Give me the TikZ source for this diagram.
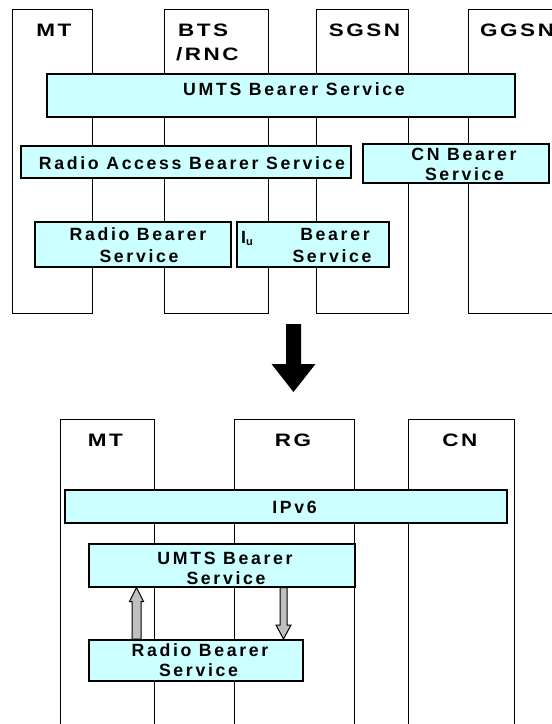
\documentclass[tikz,border=0pt]{standalone}
\usepackage{fontspec}
\usetikzlibrary{calc}
\newfontfamily\headfont[LetterSpace=14, FakeStretch=1.25]{Liberation Sans}
\newfontfamily\svcfont[LetterSpace=15]{Liberation Sans}
\definecolor{svcfill}{HTML}{CCFFFF}
\definecolor{arrowgray}{HTML}{C0C0C0}

\begin{document}
\begin{tikzpicture}[x=1pt, y=-1pt,
  entity/.style={draw, line width=1.3pt, rectangle, inner sep=0pt, anchor=north west},
  service/.style={draw, fill=svcfill, line width=1.5pt, rectangle, inner sep=0pt, anchor=north west},
  sz/.style 2 args={minimum width=#1pt, minimum height=#2pt},
  headtxt/.style={font=\headfont\bfseries\fontsize{18pt}{22pt}\selectfont, inner sep=0pt, anchor=base},
  svctxt/.style={font=\svcfont\bfseries\fontsize{17.7pt}{20pt}\selectfont, inner sep=0pt, anchor=base},
  grayarrow/.style={draw, fill=arrowgray, line width=1pt, line join=miter},
  bigarrow/.style={fill=black}
]
\useasboundingbox (0,0) rectangle (552,724);
\clip (0,0) rectangle (552,724);

% ---------- UMTS bearer architecture ----------
\node[entity, sz={80}{304}]  (mt1)  at (12,9)  {};
\node[entity, sz={104}{304}] (bts)  at (164,9) {};
\node[entity, sz={92}{304}]  (sgsn) at (316,9) {};
\node[entity, sz={140}{304}] (ggsn) at (468,9) {};

\node[headtxt] (mt1lbl) at (54,36) {MT};
\node[headtxt, anchor=base west] (btslbl) at (178,36) {BTS};
\node[headtxt, anchor=base west] (rnclbl) at (176,60) {/RNC};
\node[headtxt] (sgsnlbl) at (364.5,36) {SGSN};
\node[headtxt, anchor=base west] (ggsnlbl) at (480,36) {GGSN};

\node[service, sz={468}{43}] (umts1) at (46,73)  {};
\node[service, sz={330}{32}] (rab)   at (20,145) {};
\node[service, sz={186}{39}] (cnb)   at (362,143) {};
\node[service, sz={196}{45}] (rb1)   at (34,221) {};
\node[service, sz={152}{45}] (iub)   at (236,221) {};

\node[svctxt] (umts1lbl) at (294,95) {UMTS Bearer Service};
\node[svctxt] (rablbl) at (192,169) {Radio Access Bearer Service};
\node[svctxt] (cnblbla) at (464,160) {CN Bearer};
\node[svctxt] (cnblblb) at (464.5,180) {Service};
\node[svctxt] (rb1lbla) at (138,240) {Radio Bearer};
\node[svctxt] (rb1lblb) at (139,262) {Service};
\node[svctxt, anchor=base west] (iulbl) at (241,243)
  {I\raisebox{-2pt}{\fontsize{11pt}{11pt}\selectfont u}};
\node[svctxt] (iublbla) at (335,240) {Bearer};
\node[svctxt] (iublblb) at (332,262) {Service};

% ---------- transition arrow ----------
\coordinate (bigtail) at (293.5,324);
\coordinate (bigtip)  at (293.5,392);
\fill[bigarrow] let \p1=(bigtail), \p2=(bigtip) in
  (\x1-7.5pt,\y1) -- (\x1-7.5pt,\y2+28pt) -- (\x1-22pt,\y2+28pt) -- (\x2,\y2)
  -- (\x1+22pt,\y2+28pt) -- (\x1+7.5pt,\y2+28pt) -- (\x1+7.5pt,\y1) -- cycle;

% ---------- IPv6 over UMTS ----------
\node[entity, sz={94}{330}]  (mt2) at (60,419)  {};
\node[entity, sz={120}{330}] (rg)  at (234,419) {};
\node[entity, sz={106}{330}] (cn)  at (408,419) {};

\node[headtxt] (mt2lbl) at (105.5,446) {MT};
\node[headtxt] (rglbl)  at (293,446)   {RG};
\node[headtxt] (cnlbl)  at (460,446)   {CN};

\node[service, sz={442}{33}] (ipv6)  at (64,489) {};
\node[service, sz={266}{43}] (umts2) at (88,543) {};
\node[service, sz={214}{41}] (rb2)   at (88,639) {};

\node[svctxt] (ipv6lbl) at (294.5,513) {IPv6};
\node[svctxt] (umts2lbla) at (225,564) {UMTS Bearer};
\node[svctxt] (umts2lblb) at (226,584) {Service};
\node[svctxt] (rb2lbla) at (200,656) {Radio Bearer};
\node[svctxt] (rb2lblb) at (198.5,676) {Service};

% up: radio bearer -> UMTS bearer
\path (rb2.north west)    ++(48.5,0) coordinate (upfrom);
\path (umts2.south west)  ++(48.5,0) coordinate (upto);
\draw[grayarrow] let \p1=(upfrom), \p2=(upto) in
  (\x1-4.5pt,\y1) -- (\x1-4.5pt,\y2-14pt) -- (\x1-7pt,\y2-14pt) -- (\x2,\y2)
  -- (\x1+7pt,\y2-14pt) -- (\x1+4.5pt,\y2-14pt) -- (\x1+4.5pt,\y1) -- cycle;

% down: UMTS bearer -> radio bearer
\path (umts2.south west) ++(195.5,0) coordinate (downfrom);
\path (rb2.north west)   ++(195.5,0) coordinate (downto);
\draw[grayarrow] let \p1=(downfrom), \p2=(downto) in
  (\x1-3.5pt,\y1) -- (\x1-3.5pt,\y2+14pt) -- (\x1-7.5pt,\y2+14pt) -- (\x2,\y2)
  -- (\x1+7.5pt,\y2+14pt) -- (\x1+3.5pt,\y2+14pt) -- (\x1+3.5pt,\y1) -- cycle;
\end{tikzpicture}
\end{document}
